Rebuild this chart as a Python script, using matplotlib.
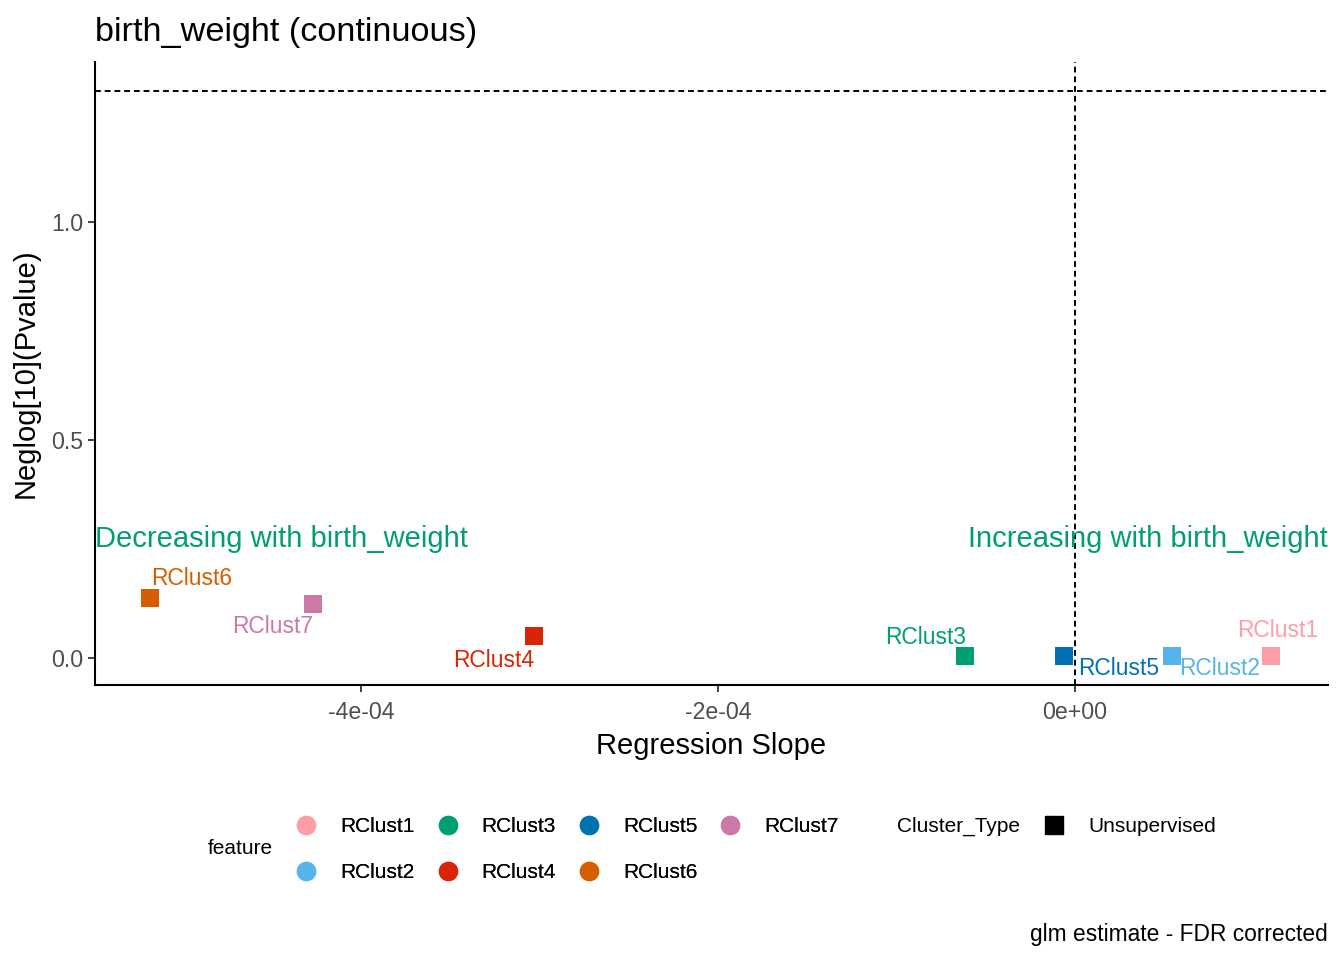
import matplotlib
matplotlib.use("Agg")
import matplotlib.pyplot as plt
from matplotlib.lines import Line2D
from matplotlib.ticker import FixedLocator, FuncFormatter

plt.rcParams["font.family"] = ["Liberation Sans", "DejaVu Sans"]

# dados
features = ["RClust1", "RClust2", "RClust3", "RClust4", "RClust5", "RClust6", "RClust7"]
slopes = [1.10e-4, 5.45e-5, -6.15e-5, -3.03e-4, -6.2e-6, -5.18e-4, -4.27e-4]
neglog_p = [0.005, 0.005, 0.005, 0.050, 0.005, 0.138, 0.124]
cores = ["#FF9DA6", "#56B4E9", "#009E73", "#D92405", "#0072B2", "#D55E00", "#CC79A7"]
x_ticks = [-4e-4, -2e-4, 0.0]
x_tick_labels = ["-4e-04", "-2e-04", "0e+00"]
y_ticks = [0.0, 0.5, 1.0]
limiar = 1.30103  # -log10(0.05)

# deslocamento dos rotulos (pixels), como o ggrepel
deslocamentos = [(6, 25), (47, -13), (-40, 18), (-41, -24), (55, -13), (41, 19), (-40, -23)]

fig = plt.figure(figsize=(13.44, 9.6), dpi=100)
ax = fig.add_axes([95 / 1344, 1 - 685 / 960, (1328 - 95) / 1344, (685 - 62) / 960])

ax.axhline(limiar, color="black", linestyle=(0, (3, 2)), linewidth=1.4)
ax.axvline(0, color="black", linestyle=(0, (3, 2)), linewidth=1.4)

for f, xs, ys, c, d in zip(features, slopes, neglog_p, cores, deslocamentos):
    ax.scatter(xs, ys, marker="s", s=175, color=c, linewidths=0, zorder=3)
    ax.annotate(f, (xs, ys), xytext=d, textcoords="offset pixels",
                ha="center", va="center", color=c, fontsize=16.4)

ax.set_xlim(-5.49e-4, 1.417e-4)
ax.set_ylim(-0.062, 1.367)

ax.text(0.0, 0.272, "Decreasing with birth_weight", transform=ax.get_yaxis_transform(),
        ha="left", va="center", color="#009E73", fontsize=21)
ax.text(1.0, 0.272, "Increasing with birth_weight", transform=ax.get_yaxis_transform(),
        ha="right", va="center", color="#009E73", fontsize=21)

ax.xaxis.set_major_locator(FixedLocator(x_ticks))
ax.xaxis.set_major_formatter(FuncFormatter(lambda v, p: x_tick_labels[x_ticks.index(v)] if v in x_ticks else ""))
ax.yaxis.set_major_locator(FixedLocator(y_ticks))
ax.yaxis.set_major_formatter(FuncFormatter(lambda v, p: f"{v:.1f}"))

for s in ["top", "right"]:
    ax.spines[s].set_visible(False)
for s in ["left", "bottom"]:
    ax.spines[s].set_linewidth(1.5)
ax.tick_params(length=5, width=1.3, color="#333333", labelcolor="#4D4D4D", labelsize=16.7)
ax.tick_params(axis="x", pad=6.5)

ax.set_xlabel("Regression Slope", fontsize=21, labelpad=6)
ax.set_ylabel("Neglog[10](Pvalue)", fontsize=21, labelpad=8)
ax.set_title("birth_weight (continuous)", loc="left", fontsize=24.7, pad=15)

# legenda
alcas = [Line2D([], [], marker="o", linestyle="", markersize=13, color=c) for c in cores]
leg = fig.legend(alcas, features, loc="upper left", bbox_to_anchor=(296 / 1344, 1 - 817 / 960),
                 ncol=4, frameon=False, fontsize=15, handlelength=1.0, handletextpad=1.13,
                 columnspacing=1.08, labelspacing=1.29, borderpad=0, borderaxespad=0)
fig.text(208 / 1344, 1 - 849 / 960, "feature", fontsize=15, ha="left", va="center")
fig.text(897 / 1344, 1 - 826 / 960, "Cluster_Type", fontsize=15, ha="left", va="center")
alca_tipo = [Line2D([], [], marker="s", linestyle="", markersize=13, color="black")]
fig.legend(alca_tipo, ["Unsupervised"], loc="upper left", bbox_to_anchor=(1044 / 1344, 1 - 817 / 960),
           frameon=False, fontsize=15, handlelength=1.0, handletextpad=1.13,
           borderpad=0, borderaxespad=0)
fig.add_artist(leg)

fig.text(1328 / 1344, 1 - 934 / 960, "glm estimate - FDR corrected", fontsize=16.4,
         ha="right", va="center")

fig.savefig("out.png", dpi=100)
